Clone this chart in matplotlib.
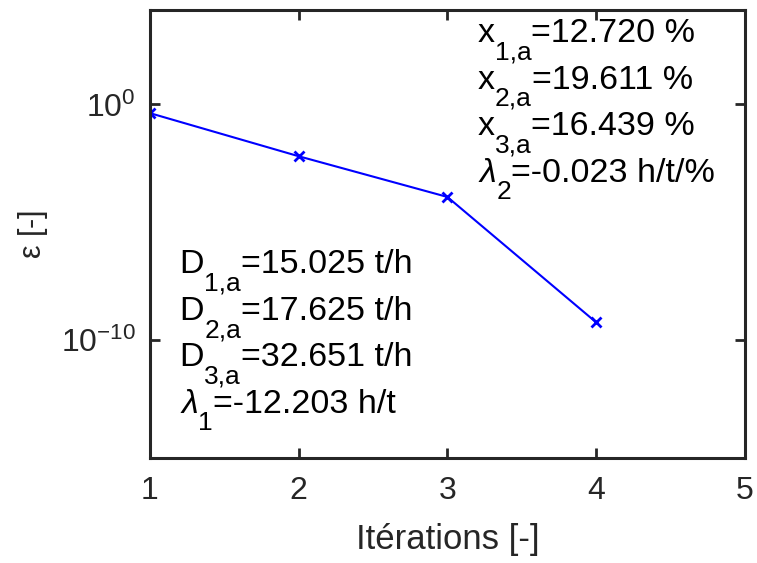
import matplotlib.pyplot as plt
from matplotlib.ticker import FixedLocator, NullLocator
from matplotlib.transforms import offset_copy

plt.rcParams["font.family"] = ["Liberation Sans", "DejaVu Sans"]
plt.rcParams["mathtext.fontset"] = "custom"
plt.rcParams["mathtext.rm"] = "Liberation Sans"
plt.rcParams["mathtext.it"] = "Liberation Sans:italic"
plt.rcParams["mathtext.default"] = "regular"

ITERATIONS = [1, 2, 3, 4]
EPSILON = [0.43, 6.4e-3, 1.2e-4, 5.8e-10]

Y_TICKS = [1e-10, 1e0]
Y_TICK_LABELS = ["$10^{-10}$", "$10^{0}$"]
X_TICKS = [1, 2, 3, 4, 5]

# each line: (main symbol, subscript, rest of the line)
LEFT_TEXT = [
    ("D", "1,a", "=15.025 t/h"),
    ("D", "2,a", "=17.625 t/h"),
    ("D", "3,a", "=32.651 t/h"),
    (r"$\mathit{\lambda}$", "1", "=-12.203 h/t"),
]
RIGHT_TEXT = [
    ("x", "1,a", "=12.720 %"),
    ("x", "2,a", "=19.611 %"),
    ("x", "3,a", "=16.439 %"),
    (r"$\mathit{\lambda}$", "2", "=-0.023 h/t/%"),
]

DARK = "#262626"
TEXT_SIZE = 24.5
SUB_SIZE = 19
SUB_DROP = 12.5
LINE_STEP = 0.104


def draw_subscript_line(axis, x, y, parts):
    figure = axis.figure
    renderer = figure.canvas.get_renderer()
    x_offset = 0.0
    for part_index, content in enumerate(parts):
        is_sub = part_index == 1
        transform = offset_copy(
            axis.transAxes,
            fig=figure,
            x=x_offset,
            y=-SUB_DROP if is_sub else 0,
            units="points",
        )
        text = axis.text(
            x, y, content,
            transform=transform,
            fontsize=SUB_SIZE if is_sub else TEXT_SIZE,
            color="black", ha="left", va="baseline",
        )
        extent = text.get_window_extent(renderer)
        x_offset += extent.width * 72 / figure.dpi


def draw_text_block(axis, x, y_first, lines):
    for line_index, parts in enumerate(lines):
        draw_subscript_line(axis, x, y_first - line_index * LINE_STEP, parts)


def main():
    figure = plt.figure(figsize=(7.57, 5.63), dpi=100)
    axis = figure.add_axes([0.198, 0.186, 0.786, 0.796])

    axis.plot(ITERATIONS, EPSILON, color="#0000ff", linewidth=1.5,
              marker="x", markersize=7, markeredgewidth=2)

    axis.set_yscale("log")
    axis.set_xlim(1, 5)
    axis.set_ylim(1e-15, 1e4)
    axis.yaxis.set_major_locator(FixedLocator(Y_TICKS))
    axis.set_yticklabels(Y_TICK_LABELS)
    axis.yaxis.set_minor_locator(NullLocator())
    axis.set_xticks(X_TICKS)

    for spine in axis.spines.values():
        spine.set_color(DARK)
        spine.set_linewidth(2.2)
    axis.tick_params(axis="both", which="major", direction="in", length=7,
                     width=2, colors=DARK, labelsize=23, top=True, right=True)
    axis.tick_params(axis="x", pad=13)
    axis.tick_params(axis="y", pad=10)

    axis.set_xlabel("Itérations [-]", fontsize=25, color=DARK, labelpad=12)
    axis.set_ylabel(r"$\epsilon$ [-]", fontsize=22, color=DARK, labelpad=8)

    figure.canvas.draw()
    draw_text_block(axis, 0.050, 0.413, LEFT_TEXT)
    draw_text_block(axis, 0.551, 0.929, RIGHT_TEXT)

    figure.savefig("out.png", dpi=100)
    plt.close(figure)


if __name__ == "__main__":
    main()
